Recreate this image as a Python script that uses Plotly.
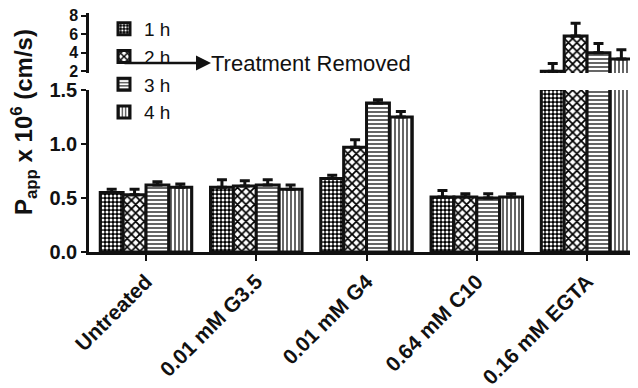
import plotly.graph_objects as go

categories = ["Untreated", "0.01 mM G3.5", "0.01 mM G4", "0.64 mM C10", "0.16 mM EGTA"]
series_names = ["1 h", "2 h", "3 h", "4 h"]
values = {
    "1 h": [0.55, 0.60, 0.68, 0.51, 1.98],
    "2 h": [0.53, 0.61, 0.97, 0.51, 5.8],
    "3 h": [0.62, 0.62, 1.38, 0.50, 4.0],
    "4 h": [0.60, 0.58, 1.25, 0.51, 3.3],
}
errors = {
    "1 h": [0.03, 0.07, 0.03, 0.06, 0.85],
    "2 h": [0.05, 0.05, 0.07, 0.03, 1.4],
    "3 h": [0.03, 0.05, 0.03, 0.04, 1.0],
    "4 h": [0.03, 0.04, 0.05, 0.03, 1.0],
}
low_ticks = [0.0, 0.5, 1.0, 1.5]
low_labels = ["0.0", "0.5", "1.0", "1.5"]
high_ticks = [2, 4, 6, 8]

patterns = {
    "1 h": dict(shape=".", bgcolor="black", fgcolor="white", size=4, solidity=0.45, fillmode="replace"),
    "2 h": dict(shape="x", bgcolor="white", fgcolor="black", size=6, solidity=0.5, fillmode="replace"),
    "3 h": dict(shape="-", bgcolor="white", fgcolor="black", size=4, solidity=0.3, fillmode="replace"),
    "4 h": dict(shape="|", bgcolor="white", fgcolor="black", size=4, solidity=0.3, fillmode="replace"),
}

# page body has an 8px margin: figure coordinates = screen coordinates - 8
OFF = 8
W, H = 630, 380
ML, MR, MT, MB = 89 - OFF, 1, 13 - OFF, 136
PW, PH = W - ML - MR, H - MT - MB


def px(xs):
    return (xs - OFF - ML) / PW


def py(ys):
    return (H - MB - (ys - OFF)) / PH


FONT = "Liberation Sans, Arial, sans-serif"
INK = "#111111"
fig = go.Figure()
for name in series_names:
    for ax_name, show in (("y", True), ("y2", False)):
        fig.add_trace(go.Bar(
            x=categories, y=values[name], name=name, yaxis=ax_name,
            showlegend=show, legendgroup=name,
            marker=dict(color="white", pattern=patterns[name],
                        line=dict(color=INK, width=3)),
            error_y=dict(type="data", symmetric=False, array=errors[name],
                         arrayminus=[0] * len(categories),
                         color=INK, thickness=3, width=5),
        ))

fig.update_layout(
    width=W, height=H,
    margin=dict(l=ML, r=MR, t=MT, b=MB, autoexpand=False),
    paper_bgcolor="white", plot_bgcolor="white",
    barmode="group", bargap=0.17, bargroupgap=0,
    font=dict(family=FONT, color=INK),
    xaxis=dict(range=[-0.517, 4.453], showline=True, linewidth=3, linecolor=INK,
               ticks="outside", ticklen=6, tickwidth=2, tickcolor=INK,
               tickangle=-45, tickfont=dict(size=21, weight="bold"),
               showgrid=False, zeroline=False, anchor="y", automargin=False),
    yaxis=dict(domain=[0, py(90)], range=[0, 1.5], tickvals=low_ticks,
               ticktext=low_labels,
               showline=True, linewidth=2.5, linecolor=INK,
               ticks="outside", ticklen=5, tickwidth=2, tickcolor=INK,
               tickfont=dict(size=20, weight="bold"), showgrid=False, zeroline=False,
               automargin=False),
    yaxis2=dict(domain=[py(73), 1], range=[1.79, 8.3], tickvals=high_ticks,
                showline=True, linewidth=2.5, linecolor=INK,
                ticks="outside", ticklen=5, tickwidth=2, tickcolor=INK,
                tickfont=dict(size=16, weight="bold"), showgrid=False, zeroline=False,
                anchor="x", automargin=False, ticklabeloverflow="allow"),
    legend=dict(x=px(104), y=py(10), xanchor="left", yanchor="top",
                font=dict(size=19), bgcolor="rgba(0,0,0,0)", tracegroupgap=0),
    showlegend=True,
)

fig.add_annotation(xref="paper", yref="paper", x=px(211), y=py(63), ax=-88, ay=0,
                   text="", showarrow=True, arrowhead=2, arrowsize=1.2, arrowwidth=2.5,
                   arrowcolor=INK)
fig.add_annotation(xref="paper", yref="paper", x=px(209), y=py(63), xanchor="left",
                   yanchor="middle", text="Treatment Removed", showarrow=False,
                   font=dict(size=22, color=INK))
fig.add_annotation(xref="paper", yref="paper", x=px(24), y=py(122), xanchor="center",
                   yanchor="middle", textangle=-90, showarrow=False,
                   text="P<sub>app</sub> x 10<sup>6</sup> (cm/s)",
                   font=dict(size=24, weight="bold", color=INK))

fig.write_html("out.html")
